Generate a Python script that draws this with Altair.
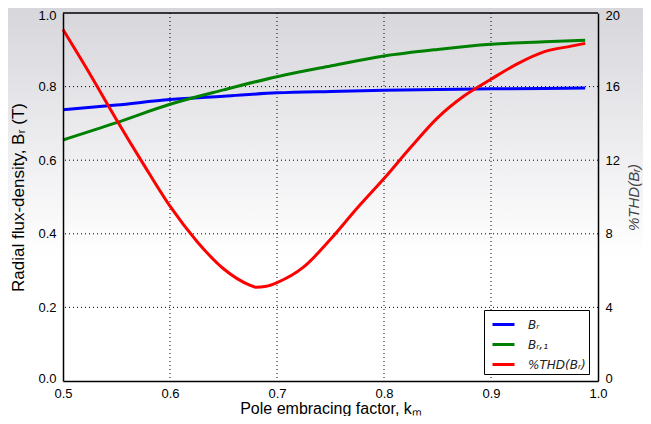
import altair as alt
import pandas as pd

# ---- data ----
k_br = [0.5, 0.55, 0.6, 0.65, 0.7, 0.75, 0.8, 0.85, 0.9, 0.95, 0.988]
br = [0.737, 0.750, 0.765, 0.774, 0.783, 0.787, 0.790, 0.792, 0.794, 0.795, 0.796]
br1 = [0.655, 0.702, 0.752, 0.791, 0.827, 0.856, 0.883, 0.901, 0.915, 0.922, 0.926]

k_thd = [0.5, 0.525, 0.55, 0.575, 0.6, 0.625, 0.65, 0.675, 0.68, 0.69, 0.7, 0.725,
         0.75, 0.775, 0.8, 0.825, 0.85, 0.875, 0.9, 0.925, 0.95, 0.975, 0.988]
thd = [19.1, 16.7, 14.2, 11.8, 9.5, 7.6, 6.1, 5.2, 5.1, 5.15, 5.35, 6.2,
       7.7, 9.4, 11.0, 12.7, 14.3, 15.5, 16.4, 17.25, 17.9, 18.2, 18.35]

names = ["Bᵣ", "Bᵣ,₁", "%THD(Bᵣ)"]
colors = ["#0000ff", "#008000", "#ff0000"]

x_ticks = [0.5, 0.6, 0.7, 0.8, 0.9, 1.0]
yl_ticks = [0.0, 0.2, 0.4, 0.6, 0.8, 1.0]
yr_ticks = [0, 4, 8, 12, 16, 20]

df_left = pd.DataFrame({
    "k": k_br + k_br,
    "v": br + br1,
    "s": [names[0]] * len(k_br) + [names[1]] * len(k_br),
})
df_right = pd.DataFrame({"k": k_thd, "v": thd, "s": [names[2]] * len(k_thd)})
df_xgrid = pd.DataFrame({"k": x_ticks[1:-1]})
df_ygrid = pd.DataFrame({"v": yl_ticks[1:-1]})

W, H = 535, 368
xscale = alt.Scale(domain=[0.5, 1.0], nice=False)
ylscale = alt.Scale(domain=[0, 1.0], nice=False)

color = alt.Color(
    "s:N",
    scale=alt.Scale(domain=names, range=colors),
    sort=names,
    legend=alt.Legend(
        title=None,
        orient="none",
        legendX=421,
        legendY=297,
        symbolType="M-1.1,0H1.1",
        symbolStrokeWidth=3,
        symbolSize=400,
        symbolOffset=5,
        labelOffset=13,
        labelFont="DejaVu Sans",
        labelFontStyle="italic",
        labelFontSize=12,
        labelColor="#222222",
        rowPadding=2,
        padding=3,
        fillColor="white",
        strokeColor="black",
        labelLimit=200,
        zindex=2,
    ),
)

xaxis = alt.Axis(
    values=x_ticks, format=".1f", title="Pole embracing factor, kₘ",
    grid=False, labelPadding=6, titlePadding=0, labelFlush=False, zindex=1,
    titleFontSize=16,
)
xenc = alt.X("k:Q", scale=xscale, axis=xaxis)

bg = alt.Chart(alt.Data(values=[{}])).mark_rect(
    color=alt.LinearGradient(
        gradient="linear",
        stops=[
            alt.GradientStop(color="#d6d6db", offset=0),
            alt.GradientStop(color="#ebebee", offset=0.3),
            alt.GradientStop(color="#ffffff", offset=0.6),
        ],
        x1=0, x2=0, y1=0, y2=1,
    )
).encode(
    x=alt.value(-55), x2=alt.value(W + 45), y=alt.value(-5), y2=alt.value(H + 40)
)

xgrid = alt.Chart(df_xgrid).mark_rule(
    color="black", strokeWidth=1, strokeDash=[1, 3]
).encode(x=xenc)

ygrid = alt.Chart(df_ygrid).mark_rule(
    color="black", strokeWidth=1, strokeDash=[1, 3]
).encode(y=alt.Y("v:Q", scale=ylscale, axis=None))

frame_top = alt.Chart(alt.Data(values=[{}])).mark_rule(
    color="black", strokeWidth=1.5
).encode(x=alt.value(0), x2=alt.value(W), y=alt.value(0))

left = alt.Chart(df_left).mark_line(strokeWidth=3, interpolate="monotone").encode(
    x=xenc,
    y=alt.Y(
        "v:Q",
        scale=ylscale,
        axis=alt.Axis(
            values=yl_ticks, format=".1f", title="Radial flux-density, Bᵣ (T)",
            grid=False, labelPadding=7, titlePadding=10, zindex=1,
            labelFlush=True, labelFlushOffset=4,
        ),
    ),
    color=color,
)

right = alt.Chart(df_right).mark_line(strokeWidth=3, interpolate="monotone").encode(
    x=xenc,
    y=alt.Y(
        "v:Q",
        scale=alt.Scale(domain=[0, 20], nice=False),
        axis=alt.Axis(
            orient="right", values=yr_ticks, format="d", title="%THD(Bᵣ)",
            grid=False, titleAngle=270, titleColor="#444444",
            titleFontStyle="italic",
            labelPadding=7, titlePadding=22, titleFontSize=15, zindex=1,
            labelFlush=True, labelFlushOffset=4,
        ),
    ),
    color=color,
)

chart = (
    alt.layer(bg, xgrid, ygrid, left, right, frame_top)
    .resolve_scale(y="independent")
    .properties(
        width=W, height=H,
        autosize=alt.AutoSizeParams(type="none"),
        padding={"left": 55, "top": 5, "right": 45, "bottom": 35},
        background="white",
    )
    .configure_view(stroke="black", strokeWidth=1.5)
    .configure_axis(
        ticks=False,
        domainColor="black",
        domainWidth=1.5,
        labelFont="Liberation Sans",
        labelFontSize=13,
        labelColor="black",
        titleFont="Liberation Sans",
        titleFontSize=17,
        titleFontWeight="normal",
        titleColor="black",
    )
)

chart.save("out.html", embed_options={"renderer": "svg", "actions": False})
